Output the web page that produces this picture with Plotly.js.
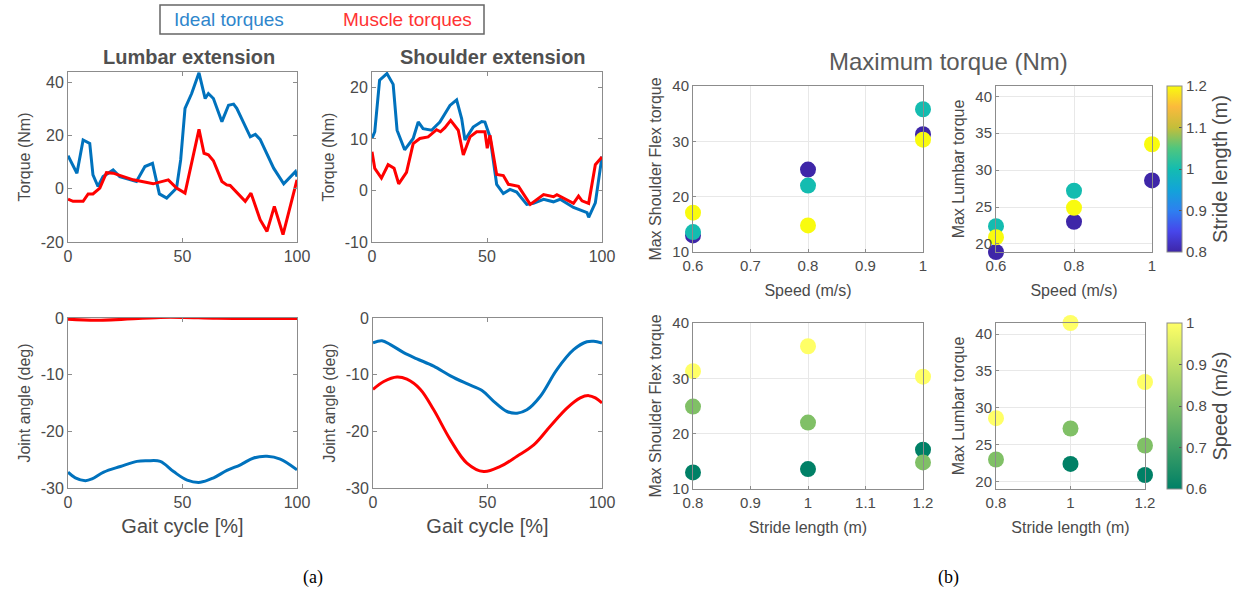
<!DOCTYPE html>
<html>
<head>
<meta charset="utf-8">
<script src="https://cdn.plot.ly/plotly-3.0.1.min.js"></script>
<style>html,body{margin:0;padding:0;background:#fff;}#chart{width:1240px;height:590px;}</style>
</head>
<body>
<div id="chart"></div>
<script>
// ---------- Data ----------
// Lumbar extension torque (Nm) vs gait cycle (%)
const lumbarIdealX = [0,3.9,6.6,9.5,10.9,13.1,15.3,19.7,22.6,29.9,33.6,36.9,39.9,43.1,47.4,49.2,51.1,54,57.2,59.9,61.3,63.5,67.2,70.1,72.3,73.7,79.6,81.8,83.9,89.8,94.2,99.3,100];
const lumbarIdealY = [12.5,5.9,18.4,17.1,5.3,0.9,4.6,7.1,4.6,2.8,8.4,9.6,-1.9,-3.5,0.3,10.9,30.3,35.9,43.7,34,35.9,34,25.3,31.5,31.9,30.3,19.6,20.5,18.6,7.8,1.9,6.5,4.6];
const lumbarMuscleX = [0,2.2,6.6,8.8,10.9,13.9,16.8,19.7,28.5,37.2,43.8,47.4,51.1,57.2,59.4,61.3,63.5,67.2,69.3,70.8,77.4,79.9,83.9,86.9,90.1,93.9,100];
const lumbarMuscleY = [-3.9,-4.7,-4.7,-1.9,-1.9,0.3,6.1,5.9,3.4,1.9,3.4,0.3,-1.6,22.4,13.4,12.8,10.6,2.8,1.5,1.3,-4.7,-1.6,-11.6,-16,-6.6,-17.2,3.4];
// Shoulder extension torque (Nm)
const shoulderIdealX = [0,1.2,3.3,6.5,9.2,10.9,14.2,17.9,20.1,22.2,25.9,29.5,33.9,36.8,39,40.4,44,47.7,49.1,51.3,54.2,57.1,60,62.9,67.3,70.2,74.6,78.9,81.8,87.6,93.5,94.2,97.1,100];
const shoulderIdealY = [10.1,11.4,21.4,22.7,20.6,11.7,7.9,10.1,13.3,12,11.7,13.3,16.5,17.6,13.9,9.8,12.3,13.4,13.3,10.4,1.2,-0.6,0.2,-0.3,-2.7,-2.5,-1.7,-2.2,-1.7,-3.3,-4.3,-5.2,-2.4,6.6];
const shoulderMuscleX = [0,1.2,4.1,7,9.6,11.6,15,17.9,20.8,24.4,28.1,29.8,31.7,34.2,37.5,39.7,42.6,45.5,49.1,50.1,51.3,54.2,57.1,59.3,63.7,68.8,74.6,78.9,80.4,87.6,89.8,91.3,94.2,97.1,100];
const shoulderMuscleY = [7.5,4.3,2.4,5,4.3,1.3,3.5,9.1,10.1,10.4,11.8,11.4,12.2,13.6,11.7,6.9,10.4,11.4,11.4,8.2,10.7,3.1,2.9,1.2,0.8,-2.7,-0.8,-1.2,-0.8,-2.5,-1.1,-2,-2.5,5,6.5];
// Lumbar joint angle (deg)
const lumbarAngIdealX = [0,3.2,7.6,10.5,15.6,22.9,30.1,34.5,40.3,46.1,52,57.8,63.6,69.4,75.3,81.1,86.9,92.7,100];
const lumbarAngIdealY = [-27.2,-28.2,-28.7,-28.4,-27.2,-26.2,-25.3,-25.2,-25.3,-27.1,-28.6,-29,-28.2,-26.9,-25.9,-24.7,-24.4,-24.9,-26.8];
const lumbarAngMuscleX = [0,12.7,40.3,50.5,65,100];
const lumbarAngMuscleY = [-0.2,-0.4,0.1,0.1,-0.05,-0.1];
// Shoulder joint angle (deg)
const shoulderAngIdealX = [0,3.9,7.6,13.4,19.2,26.5,33.8,41,47.6,52.7,58.5,62.9,67.2,73.1,80.3,87.6,93.4,96.4,100];
const shoulderAngIdealY = [-4.4,-4,-4.7,-6.1,-7.2,-8.5,-10.2,-11.6,-12.8,-14.7,-16.5,-16.8,-16.2,-13.8,-9.1,-5.6,-4.2,-4.1,-4.4];
const shoulderAngMuscleX = [0,4.7,10.5,14.8,20.7,26.5,33.8,41,48.3,55.6,62.9,70.2,77.4,84.7,90.5,94.2,97.1,100];
const shoulderAngMuscleY = [-12.6,-11.2,-10.4,-10.8,-12.6,-16.2,-21.5,-25.6,-27.1,-26.2,-24.4,-22.4,-19.1,-15.9,-14.1,-13.7,-14.1,-15];
// Maximum torques (Nm): rows = speed, cols = stride length
const speeds = [0.6, 0.8, 1.0];
const strides = [0.8, 1.0, 1.2];
const maxShoulder = [[13.0, 13.6, 17.1],[24.9, 22.0, 14.8],[31.3, 35.8, 30.3]];
const maxLumbar = [[18.9, 22.4, 20.9],[23.0, 27.2, 24.9],[28.6, 41.5, 33.5]];

// ---------- Helpers ----------
const W = 1240, H = 590;
const px = (a,b) => [a/W, b/W];
const py = (top,bot) => [1 - bot/H, 1 - top/H];
const FONT = 'Liberation Sans, Arial, Helvetica, sans-serif';
const TXT = '#4a4a4a';
const BLUE = '#0072BD', RED = '#FF0000';
const parula = [[0,'#3E26A8'],[0.125,'#4746EB'],[0.25,'#2D80F0'],[0.375,'#12A4D8'],[0.5,'#14BCB0'],[0.625,'#4FC67E'],[0.75,'#C4BE3A'],[0.875,'#FBBA3C'],[1,'#F9FB0E']];
const summer = [[0,'#008066'],[1,'#FFFF66']];

function lineAxis(dom, range, tickvals, extra) {
  return Object.assign({
    domain: dom, range: range, tickvals: tickvals, ticktext: tickvals.map(String),
    showgrid: false, zeroline: false, showline: true, linecolor: '#8c8c8c', linewidth: 1,
    mirror: 'ticks', ticks: 'inside', ticklen: 4, tickcolor: '#8c8c8c',
    tickfont: {family: FONT, size: 16, color: TXT}
  }, extra || {});
}
function scatAxis(dom, range, tickvals, title, standoff, extra) {
  return Object.assign({
    domain: dom, range: range, tickvals: tickvals, ticktext: tickvals.map(String),
    showgrid: true, gridcolor: '#e8e8e8', gridwidth: 1, zeroline: false,
    showline: true, linecolor: '#8c8c8c', linewidth: 1, mirror: true,
    ticks: 'inside', ticklen: 3, tickcolor: '#8c8c8c',
    tickfont: {family: FONT, size: 15, color: TXT},
    title: {text: title, standoff: standoff, font: {family: FONT, size: 16, color: TXT}}
  }, extra || {});
}

const traces = [];
function ln(x, y, color, xa, ya, shape) {
  traces.push({x: x, y: y, xaxis: xa, yaxis: ya, mode: 'lines', type: 'scatter', showlegend: false,
    line: {color: color, width: 3, shape: shape || 'linear', smoothing: 1}, hoverinfo: 'skip'});
}
ln(lumbarIdealX, lumbarIdealY, BLUE, 'x', 'y');
ln(lumbarMuscleX, lumbarMuscleY, RED, 'x', 'y');
ln(shoulderIdealX, shoulderIdealY, BLUE, 'x2', 'y2');
ln(shoulderMuscleX, shoulderMuscleY, RED, 'x2', 'y2');
ln(lumbarAngIdealX, lumbarAngIdealY, BLUE, 'x3', 'y3', 'spline');
ln(lumbarAngMuscleX, lumbarAngMuscleY, RED, 'x3', 'y3', 'spline');
ln(shoulderAngIdealX, shoulderAngIdealY, BLUE, 'x4', 'y4', 'spline');
ln(shoulderAngMuscleX, shoulderAngMuscleY, RED, 'x4', 'y4', 'spline');

function flat(mat, byStride) {
  const xs = [], ys = [], cs = [];
  for (let j = 0; j < strides.length; j++) {
    for (let i = 0; i < speeds.length; i++) {
      if (byStride) { xs.push(speeds[i]); cs.push(strides[j]); }
      else { xs.push(strides[j]); cs.push(speeds[i]); }
      ys.push(mat[i][j]);
    }
  }
  return {xs, ys, cs};
}
function sc(mat, byStride, xa, ya, cb) {
  const d = flat(mat, byStride);
  const t = {x: d.xs, y: d.ys, xaxis: xa, yaxis: ya, type: 'scatter', mode: 'markers', showlegend: false,
    cliponaxis: false, hoverinfo: 'skip',
    marker: {size: 16, color: d.cs, colorscale: byStride ? parula : summer,
      cmin: byStride ? 0.8 : 0.6, cmax: byStride ? 1.2 : 1.0, line: {width: 0}, showscale: !!cb}};
  if (cb) t.marker.colorbar = cb;
  traces.push(t);
}
function cbar(top, bot, vals, title) {
  return {x: 1167/W, xanchor: 'left', y: 1 - (top+bot)/2/H, yanchor: 'middle',
    thickness: 15, thicknessmode: 'pixels', len: (bot-top)/H, lenmode: 'fraction',
    xpad: 0, ypad: 0, outlinecolor: '#8c8c8c', outlinewidth: 1,
    tickvals: vals, ticktext: vals.map(String), ticks: 'inside', ticklen: 3, tickcolor: '#555',
    tickfont: {family: FONT, size: 15, color: TXT},
    title: {text: title, side: 'right', font: {family: FONT, size: 20, color: TXT}}};
}
sc(maxShoulder, true, 'x5', 'y5');
sc(maxLumbar, true, 'x6', 'y6', cbar(86, 252, [0.8,0.9,1,1.1,1.2], 'Stride length (m)'));
sc(maxShoulder, false, 'x7', 'y7');
sc(maxLumbar, false, 'x8', 'y8', cbar(323, 489, [0.6,0.7,0.8,0.9,1], 'Speed (m/s)'));

const gaitTitle = {family: FONT, size: 20, color: TXT};
const yTitleFont = {family: FONT, size: 16, color: TXT};
const layout = {
  width: W, height: H, margin: {l: 0, r: 0, t: 0, b: 0},
  paper_bgcolor: '#fff', plot_bgcolor: '#fff', showlegend: false,
  xaxis: lineAxis(px(68,297), [0,100], [0,50,100]),
  yaxis: lineAxis(py(72,242), [-20,44], [-20,0,20,40], {anchor: 'x', title: {text: 'Torque (Nm)', standoff: 6, font: yTitleFont}}),
  xaxis2: lineAxis(px(372,602), [0,100], [0,50,100], {anchor: 'y2'}),
  yaxis2: lineAxis(py(72,242), [-10,23], [-10,0,10,20], {anchor: 'x2', title: {text: 'Torque (Nm)', standoff: 6, font: yTitleFont}}),
  xaxis3: lineAxis(px(68,297), [0,100], [0,50,100], {anchor: 'y3', title: {text: 'Gait cycle [%]', font: gaitTitle, standoff: 8}}),
  yaxis3: lineAxis(py(318,488), [-30,0], [-30,-20,-10,0], {anchor: 'x3', title: {text: 'Joint angle (deg)', standoff: 6, font: yTitleFont}}),
  xaxis4: lineAxis(px(373,602), [0,100], [0,50,100], {anchor: 'y4', title: {text: 'Gait cycle [%]', font: gaitTitle, standoff: 8}}),
  yaxis4: lineAxis(py(318,488), [-30,0], [-30,-20,-10,0], {anchor: 'x4', title: {text: 'Joint angle (deg)', standoff: 6, font: yTitleFont}}),
  xaxis5: scatAxis(px(693,923), [0.6,1], [0.6,0.7,0.8,0.9,1], 'Speed (m/s)', 11, {anchor: 'y5'}),
  yaxis5: scatAxis(py(86,252), [10,40], [10,20,30,40], 'Max Shoulder Flex torque', 6, {anchor: 'x5'}),
  xaxis6: scatAxis(px(996,1152), [0.6,1], [0.6,0.8,1], 'Speed (m/s)', 11, {anchor: 'y6'}),
  yaxis6: scatAxis(py(86,252), [18.9,41.4], [20,25,30,35,40], 'Max Lumbar torque', 6, {anchor: 'x6'}),
  xaxis7: scatAxis(px(693,923), [0.8,1.2], [0.8,0.9,1,1.1,1.2], 'Stride length (m)', 11, {anchor: 'y7'}),
  yaxis7: scatAxis(py(323,489), [10,40], [10,20,30,40], 'Max Shoulder Flex torque', 6, {anchor: 'x7'}),
  xaxis8: scatAxis(px(996,1145), [0.8,1.2], [0.8,1,1.2], 'Stride length (m)', 11, {anchor: 'y8'}),
  yaxis8: scatAxis(py(323,489), [19,41.5], [20,25,30,35,40], 'Max Lumbar torque', 6, {anchor: 'x8'}),
  shapes: [
    {type: 'rect', xref: 'paper', yref: 'paper', x0: 160/W, x1: 484/W, y0: 1-34/H, y1: 1-5/H,
     line: {color: '#666', width: 1.5}, fillcolor: 'rgba(0,0,0,0)'}
  ],
  annotations: [
    {text: 'Ideal torques', x: 172/W, y: 1-19.5/H, xref: 'paper', yref: 'paper', xanchor: 'left', yanchor: 'middle', showarrow: false, font: {family: FONT, size: 19, color: '#2F86CC'}},
    {text: 'Muscle torques', x: 474/W, y: 1-19.5/H, xref: 'paper', yref: 'paper', xanchor: 'right', yanchor: 'middle', showarrow: false, font: {family: FONT, size: 19, color: '#FF3333'}},
    {text: '<b>Lumbar extension</b>', x: 189/W, y: 1-57/H, xref: 'paper', yref: 'paper', xanchor: 'center', yanchor: 'middle', showarrow: false, font: {family: FONT, size: 20, color: '#505050'}},
    {text: '<b>Shoulder extension</b>', x: 493/W, y: 1-57/H, xref: 'paper', yref: 'paper', xanchor: 'center', yanchor: 'middle', showarrow: false, font: {family: FONT, size: 20, color: '#505050'}},
    {text: 'Maximum torque (Nm)', x: 948/W, y: 1-61/H, xref: 'paper', yref: 'paper', xanchor: 'center', yanchor: 'middle', showarrow: false, font: {family: FONT, size: 24, color: '#5a5a5a'}},
    {text: '(a)', x: 313/W, y: 1-577/H, xref: 'paper', yref: 'paper', xanchor: 'center', yanchor: 'middle', showarrow: false, font: {family: 'Liberation Serif, Times New Roman, serif', size: 18, color: '#000'}},
    {text: '(b)', x: 948/W, y: 1-577/H, xref: 'paper', yref: 'paper', xanchor: 'center', yanchor: 'middle', showarrow: false, font: {family: 'Liberation Serif, Times New Roman, serif', size: 18, color: '#000'}}
  ]
};
Plotly.newPlot('chart', traces, layout, {staticPlot: true, displayModeBar: false});
</script>
</body>
</html>
